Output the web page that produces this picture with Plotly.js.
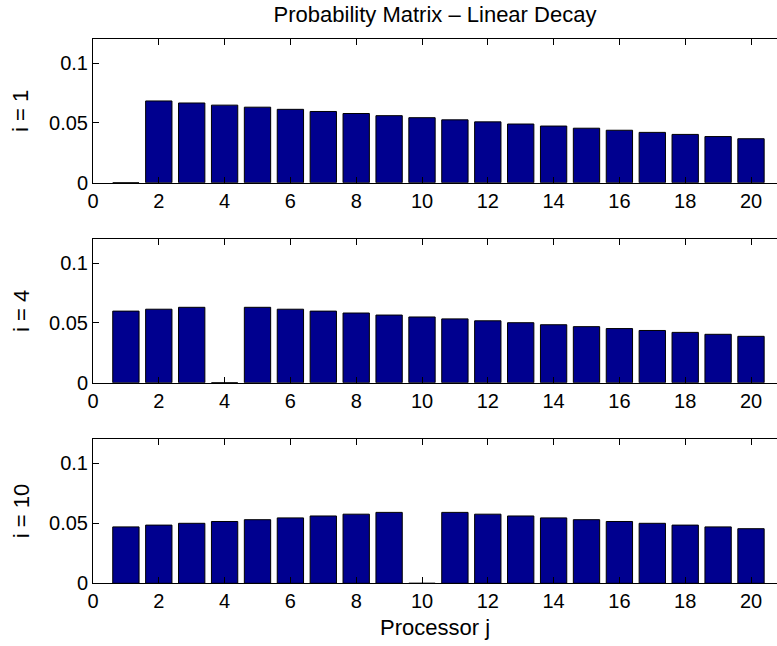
<!DOCTYPE html>
<html>
<head>
<meta charset="utf-8">
<script src="https://cdn.plot.ly/plotly-3.0.1.min.js"></script>
<style>html,body{margin:0;padding:0;background:#fff;}#chart{width:777px;height:646px;}</style>
</head>
<body>
<div id="chart"></div>
<script>
// Processor index j
const processors = [1,2,3,4,5,6,7,8,9,10,11,12,13,14,15,16,17,18,19,20];
// Probability rows
const row_i1 = [0, 0.0684, 0.0667, 0.0649, 0.0632, 0.0614, 0.0596, 0.0579, 0.0561, 0.0544,
                0.0526, 0.0509, 0.0491, 0.0474, 0.0456, 0.0439, 0.0421, 0.0404, 0.0386, 0.0368];
const row_i4 = [0.0599, 0.0615, 0.0631, 0, 0.0631, 0.0615, 0.0599, 0.0583, 0.0566, 0.0550,
                0.0534, 0.0518, 0.0502, 0.0485, 0.0469, 0.0453, 0.0437, 0.0421, 0.0405, 0.0388];
const row_i10 = [0.0470, 0.0485, 0.0500, 0.0515, 0.0530, 0.0545, 0.0561, 0.0576, 0.0591, 0,
                 0.0591, 0.0576, 0.0561, 0.0545, 0.0530, 0.0515, 0.0500, 0.0485, 0.0470, 0.0455];
const rowLabels = ['i = 1', 'i = 4', 'i = 10'];
const xTickVals = [0,2,4,6,8,10,12,14,16,18,20];
const yTickVals = [0, 0.05, 0.1];
const yTickText = ['0', '0.05', '0.1'];
const titleText = 'Probability Matrix – Linear Decay';
const xLabel = 'Processor j';

const FONT = 'Liberation Sans, Arial, Helvetica, sans-serif';
const rows = [row_i1, row_i4, row_i10];
const axSuffix = ['', '2', '3'];
const H = 646, W = 777, L = 93;
const pxDomains = [[39.3, 182.7], [239.3, 382.7], [439.3, 583.3]];
const xMax = (W - L) / 32.9;

const traces = rows.map((r, k) => ({
  type: 'bar',
  x: processors,
  y: r,
  width: 0.8,
  marker: {color: '#00008F', line: {color: '#000000', width: 1}},
  xaxis: 'x' + axSuffix[k],
  yaxis: 'y' + axSuffix[k],
  hoverinfo: 'x+y',
  showlegend: false
}));

const layout = {
  width: W, height: H,
  margin: {l: L, r: 0, t: 0, b: 0},
  paper_bgcolor: '#ffffff', plot_bgcolor: '#ffffff',
  font: {family: FONT, size: 20, color: '#000'},
  title: {text: titleText, font: {family: FONT, size: 22, color: '#000'},
          x: 0.5, xref: 'paper', xanchor: 'center', y: 1 - 14/H, yref: 'container', yanchor: 'middle'},
  annotations: [],
  bargap: 0.2
};

rows.forEach((r, k) => {
  const [top, bot] = pxDomains[k];
  const dom = [1 - bot / H, 1 - top / H];
  const xa = {
    domain: [0, 1], range: [0, xMax], anchor: 'y' + axSuffix[k],
    tickmode: 'array', tickvals: xTickVals, ticktext: xTickVals.map(String),
    ticks: 'inside', ticklen: 6, tickcolor: '#000', tickwidth: 1,
    showline: true, linecolor: '#000', linewidth: 1, mirror: 'ticks',
    showgrid: false, zeroline: false, fixedrange: true,
    tickfont: {family: FONT, size: 20, color: '#000'}
  };
  const ya = {
    domain: dom, range: [0, 0.12], anchor: 'x' + axSuffix[k],
    tickmode: 'array', tickvals: yTickVals, ticktext: yTickText,
    ticks: 'inside', ticklen: 6, tickcolor: '#000', tickwidth: 1,
    showline: true, linecolor: '#000', linewidth: 1, mirror: false,
    showgrid: false, zeroline: false, fixedrange: true,
    tickfont: {family: FONT, size: 20, color: '#000'}
  };
  layout['xaxis' + axSuffix[k]] = xa;
  layout['yaxis' + axSuffix[k]] = ya;
  layout.annotations.push({
    text: rowLabels[k], textangle: -90, showarrow: false,
    xref: 'paper', yref: 'paper', x: (21 - L) / (W - L), y: (dom[0] + dom[1]) / 2,
    xanchor: 'center', yanchor: 'middle',
    font: {family: FONT, size: 22, color: '#000'}
  });
});

layout.annotations.push({
  text: xLabel, showarrow: false, xref: 'paper', yref: 'paper',
  x: 0.5, y: 1 - 627 / H, xanchor: 'center', yanchor: 'middle',
  font: {family: FONT, size: 22, color: '#000'}
});

Plotly.newPlot('chart', traces, layout, {displayModeBar: false, staticPlot: true});
</script>
</body>
</html>
